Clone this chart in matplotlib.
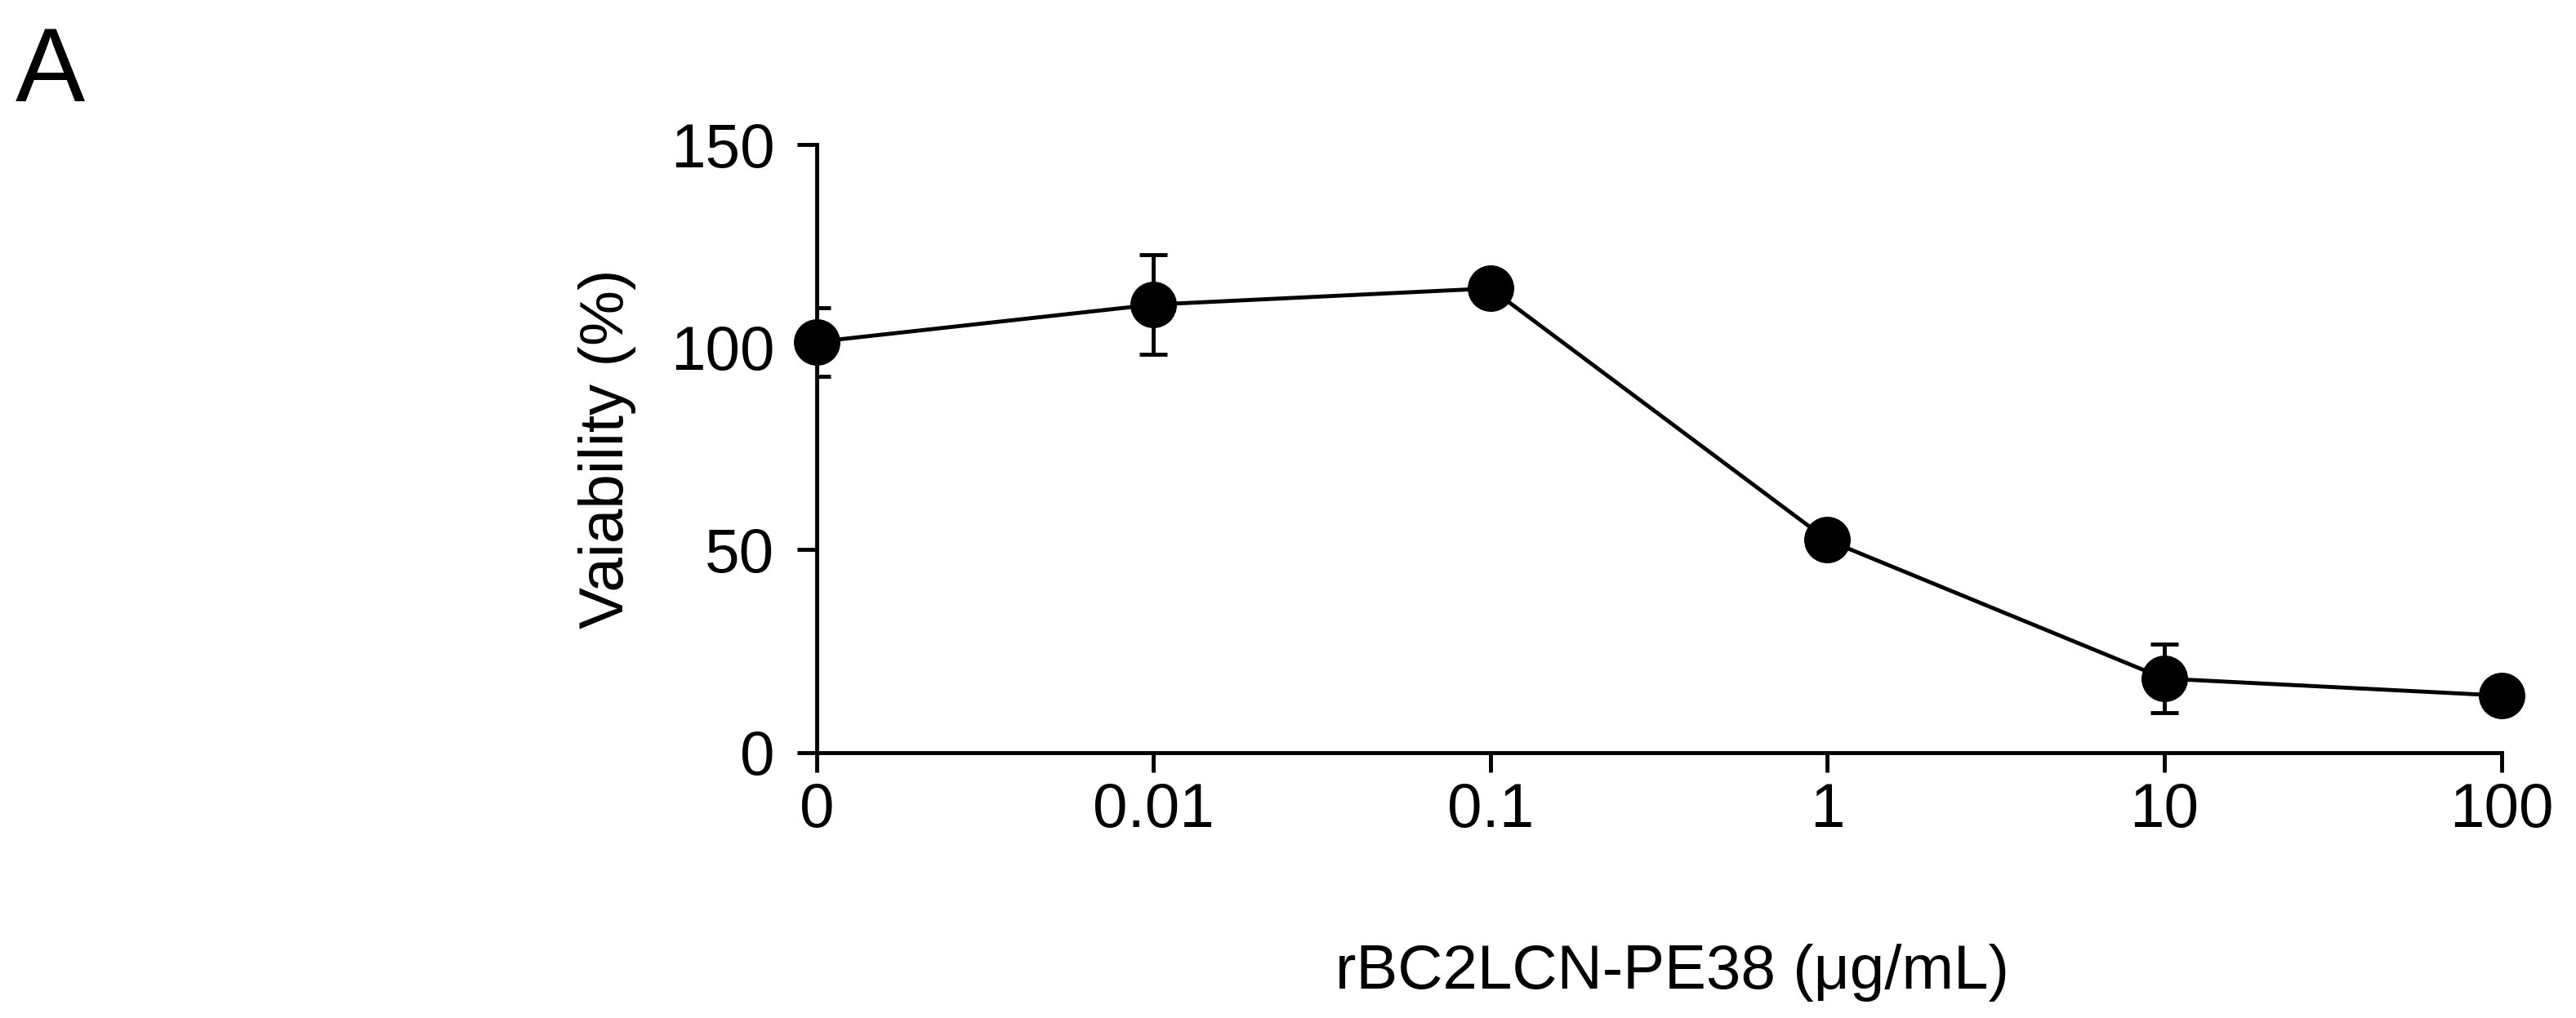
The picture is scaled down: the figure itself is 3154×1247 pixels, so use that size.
import matplotlib
matplotlib.use("Agg")
import matplotlib.pyplot as plt

plt.rcParams['font.family'] = ['Liberation Sans', 'DejaVu Sans']

conc_labels = ['0', '0.01', '0.1', '1', '10', '100']
viability = [101.3, 110.5, 114.5, 52.4, 18.2, 14.0]
viability_sd = [8.5, 12.3, 2.0, 2.0, 8.5, 2.0]

fig = plt.figure(figsize=(31.54, 12.47), dpi=100)
ax = fig.add_axes([0.317, 0.261, 0.654, 0.597])

xs = list(range(len(conc_labels)))
ax.errorbar(xs, viability, yerr=viability_sd, fmt='none', ecolor='black',
            elinewidth=3.5, capsize=12, capthick=3.5)
ax.plot(xs, viability, color='black', lw=3.5, marker='o', markersize=40,
        clip_on=False, zorder=5)

ax.set_xlim(0, 5)
ax.set_ylim(0, 150)
ax.set_yticks([0, 50, 100, 150])
ax.set_xticks(xs)
ax.set_xticklabels(conc_labels)

for s in ['top', 'right']:
    ax.spines[s].set_visible(False)
for s in ['left', 'bottom']:
    ax.spines[s].set_linewidth(3.5)
ax.tick_params(direction='out', length=17, width=3.5, labelsize=55)
ax.tick_params(axis='y', pad=20)
ax.tick_params(axis='x', pad=9)

ax.set_xlabel('rBC2LCN-PE38 (μg/mL)', fontsize=55, labelpad=92, x=0.508)
ax.set_ylabel('Vaiability (%)', fontsize=55, labelpad=30)

fig.text(0.006, 0.975, 'A', fontsize=92, va='top', ha='left')

fig.savefig('out.png', dpi=100)
